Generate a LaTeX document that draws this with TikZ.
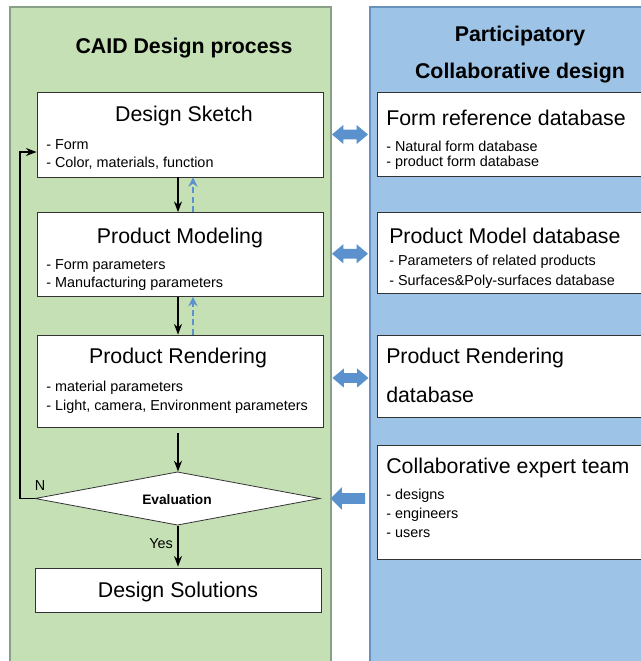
\documentclass[tikz,border=0pt]{standalone}
\usepackage{fontspec}
\setmainfont{Liberation Sans}
\usetikzlibrary{shapes.geometric,shapes.arrows,arrows.meta,calc}

\definecolor{panelgreen}{RGB}{197,224,180}
\definecolor{panelblue}{RGB}{157,195,230}
\definecolor{greenedge}{RGB}{135,160,135}
\definecolor{blueedge}{RGB}{105,145,190}
\definecolor{arrowblue}{RGB}{91,146,205}

\begin{document}
\begin{tikzpicture}[x=0.75pt, y=-0.75pt,
    box/.style={draw=black!80, fill=white, line width=0.6pt, inner sep=0pt},
    head/.style={font=\fontsize{16}{18}\selectfont},
    sect/.style={font=\fontsize{16}{18}\selectfont\bfseries},
    item/.style={font=\fontsize{10.8}{18}\selectfont, anchor=west, inner sep=0pt},
    flow/.style={line width=1.2pt, -{Stealth[length=8pt,width=6pt]}},
    back/.style={line width=1.5pt, draw=arrowblue, dashed, dash pattern=on 4.5pt off 2.5pt,
        -{Stealth[length=7pt,width=7pt]}},
    dbl/.style={double arrow, fill=arrowblue, draw=none, minimum height=27pt,
        inner sep=3.4pt, double arrow head extend=3.6pt, double arrow tip angle=80},
    sgl/.style={single arrow, fill=arrowblue, draw=none, minimum height=26pt,
        inner sep=3.75pt, single arrow head extend=4.5pt, single arrow tip angle=90,
        shape border rotate=180}]
    \useasboundingbox (0,0) rectangle (641,661);

    % the two panels
    \fill[panelgreen] (10,7) rectangle (331,670);
    \draw[greenedge, line width=0.8pt] (10,670) -- (10,7) -- (331,7) -- (331,670);
    \fill[panelblue] (370,7) rectangle (650,670);
    \draw[blueedge, line width=0.8pt] (370,670) -- (370,7) -- (650,7);

    \node[sect] (caid) at (184,48) {CAID Design process};
    \node[sect] (part) at (520,36) {Participatory};
    \node[sect] (collab) at (520,73) {Collaborative design};

    % process steps on the left
    \node[box, minimum width=214.5pt, minimum height=63.75pt] (sketch) at (180,134.5) {};
    \node[head] (sketcht) at (184,116) {Design Sketch};
    \node[item] (sketch1) at (46,145) {- Form};
    \node[item] (sketch2) at (46,163) {- Color, materials, function};

    \node[box, minimum width=214.5pt, minimum height=63pt] (model) at (180,254.5) {};
    \node[head] (modelt) at (180,238) {Product Modeling};
    \node[item] (model1) at (46,266) {- Form parameters};
    \node[item] (model2) at (46,284) {- Manufacturing parameters};

    \node[box, minimum width=214.5pt, minimum height=69pt] (render) at (180,381) {};
    \node[head] (rendert) at (178,358) {Product Rendering};
    \node[item] (render1) at (46,388) {- material parameters};
    \node[item] (render2) at (46,407) {- Light, camera, Environment parameters};

    \node[box, diamond, minimum width=213.75pt, minimum height=40pt, aspect=5.3] (eval) at (177.5,498.5) {};
    \node[font=\fontsize{10.3}{12}\selectfont\bfseries] (evalt) at (177,500) {Evaluation};

    \node[box, minimum width=214.5pt, minimum height=33pt] (sol) at (178,590) {};
    \node[head] (solt) at (178,592) {Design Solutions};

    % databases and team on the right
    \node[box, minimum width=201pt, minimum height=63pt] (formdb) at (511,134.5) {};
    \node[head, anchor=west, inner sep=0pt] (formdbt) at (386,118) {Form reference database};
    \node[item] (formdb1) at (386,146) {- Natural form database};
    \node[item] (formdb2) at (386,163) {- product form database};

    \node[box, minimum width=201pt, minimum height=60.75pt] (modeldb) at (511,253) {};
    \node[head, anchor=west, inner sep=0pt] (modeldbt) at (389,236) {Product Model database};
    \node[item] (modeldb1) at (389,262) {- Parameters of related products};
    \node[item] (modeldb2) at (389,282) {- Surfaces\&Poly-surfaces database};

    \node[box, minimum width=201pt, minimum height=61.5pt] (renderdb) at (511,376) {};
    \node[head, anchor=west, inner sep=0pt] (renderdbt) at (386,358) {Product Rendering};
    \node[head, anchor=west, inner sep=0pt] (renderdbu) at (386,395) {database};

    \node[box, minimum width=201pt, minimum height=86pt] (team) at (511,502.5) {};
    \node[head, anchor=west, inner sep=0pt] (teamt) at (386,468) {Collaborative expert team};
    \node[item] (team1) at (386,496) {- designs};
    \node[item] (team2) at (386,515) {- engineers};
    \node[item] (team3) at (386,534) {- users};

    % flow between the steps
    \draw[flow] ($(sketch.south)+(-2,0)$) -- ($(model.north)+(-2,0)$);
    \draw[back] ($(model.north)+(13,0)$) -- ($(sketch.south)+(13,0)$);
    \draw[flow] ($(model.south)+(-2,0)$) -- ($(render.north)+(-2,0)$);
    \draw[back] ($(render.north)+(13,0)$) -- ($(model.south)+(13,0)$);
    \draw[flow] ($(render.south)+(-2,6)$) -- ($(eval.north)+(0.5,0)$);
    \draw[flow] ($(eval.south)+(0.5,0)$) -- node[left, pos=0.45, font=\fontsize{10.8}{12}\selectfont] (yes) {Yes} ($(sol.north)+(0,-1)$);

    % loop back when the evaluation fails
    \coordinate (loop) at (20,498.5);
    \draw[flow] (eval.west) -- (loop) |- ($(sketch.west)+(0,17.5)$);
    \node[font=\fontsize{10.8}{12}\selectfont] (no) at (40,486) {N};

    % links between the panels
    \node[dbl] (link1) at ($(sketch.east)!0.5!(formdb.west)$) {};
    \node[dbl] (link2) at ($(model.east)!0.5!(modeldb.west)$) {};
    \node[dbl] (link3) at (350.5,378) {};
    \node[sgl] (link4) at (350.5,498.5) {};
\end{tikzpicture}
\end{document}
